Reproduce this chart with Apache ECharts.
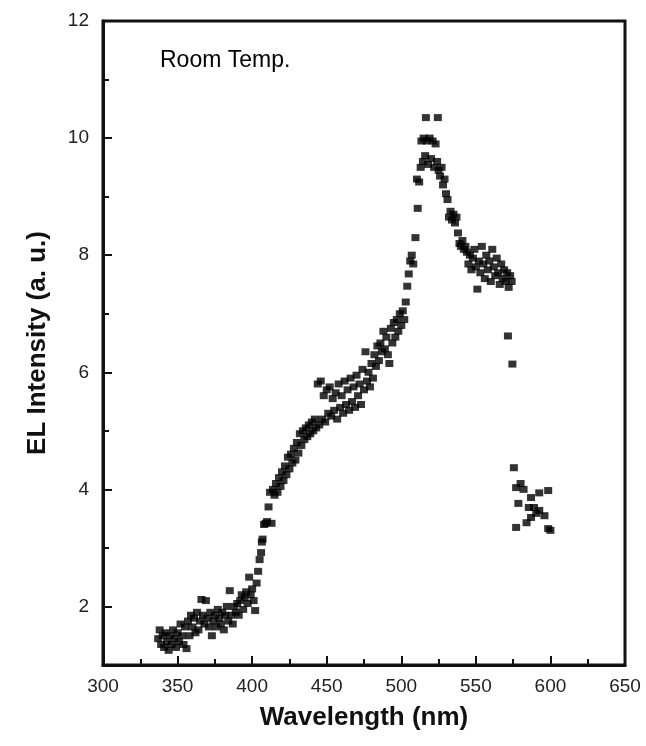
<!DOCTYPE html>
<html>
<head>
<meta charset="utf-8">
<script src="https://cdn.jsdelivr.net/npm/echarts@6/dist/echarts.min.js"></script>
<style>
  html, body { margin: 0; padding: 0; background: #fff; }
  #chart { width: 646px; height: 746px; }
</style>
</head>
<body>
<div id="chart"></div>
<script>
// wavelength (nm) of each measured point
const wavelength = [
  337, 338, 339, 340, 341, 342, 343, 344, 345, 346, 347, 348, 349, 350, 351, 352, 353, 354, 355, 356,
  357, 358, 359, 360, 361, 362, 363, 364, 365, 366, 367, 368, 369, 370, 371, 372, 373, 374, 375, 376,
  377, 378, 379, 380, 381, 382, 383, 384, 385, 386, 387, 388, 389, 390, 391, 392, 393, 394, 395, 396,
  397, 398, 399, 400, 401, 402, 403, 404, 405, 406,
  406.5, 407, 408, 409, 410, 411, 412, 413, 414, 415, 416, 417, 418, 419, 420, 421, 422, 423, 424, 425,
  426, 427, 428, 429, 430, 431, 432, 433, 434, 435, 436, 437, 438, 439, 440, 441, 442, 443, 444, 445,
  446, 447, 448, 449, 450,
  451, 452, 453, 454, 455, 456, 457, 458, 459, 460, 461, 462, 463, 464, 465, 466, 467, 468, 469, 470,
  471, 472, 473, 474, 475, 476, 477, 478, 479, 480, 481, 482, 483, 484, 485, 486, 487, 488, 489, 490,
  491, 492, 493, 494, 495, 496, 497, 498, 499, 500, 501, 502, 503,
  504, 505, 506, 507, 508, 509.5, 511, 510.5, 512, 513, 513.5, 514.5, 515, 516.5, 516, 517, 518, 519, 520, 521,
  522, 523, 524.5, 524, 525, 526, 527, 528, 529, 530, 531, 532, 533, 534, 535, 536, 537, 538, 539, 540,
  541, 542, 543,
  544, 545, 546, 547, 548, 549, 550, 551, 552, 553, 554, 555, 556, 557, 558, 559, 560, 561, 562, 563,
  564, 565, 566, 567, 568, 569, 570, 571, 572, 573, 574,
  571.5, 574.5, 575.5, 577, 580, 582, 598.5, 592.5, 578.5, 587, 589, 592.5, 596, 587, 584, 577, 598.5, 590.5, 585.5, 600
];

// EL intensity (a. u.) of each point
const intensity = [
  1.45, 1.6, 1.35, 1.5, 1.3, 1.55, 1.4, 1.25, 1.5, 1.35, 1.6, 1.45, 1.3, 1.55, 1.4, 1.7, 1.5, 1.35, 1.65, 1.28,
  1.75, 1.5, 1.85, 1.65, 1.8, 1.55, 1.9, 1.6, 1.75, 2.12, 1.85, 1.7, 2.1, 1.8, 1.65, 1.9, 1.5, 1.75, 1.85, 1.65,
  1.95, 1.8, 1.7, 1.9, 1.6, 1.85, 2.0, 1.75, 2.27, 1.85, 1.7, 2.0, 1.9, 2.05, 1.85, 2.1, 2.2, 1.95, 2.15, 2.25,
  2.05, 2.5, 2.2, 2.3, 2.1, 1.93, 2.4, 2.6, 2.8, 2.92,
  3.1, 3.15, 3.4, 3.42, 3.45, 3.7, 3.95, 3.42, 4.0, 3.9, 4.1, 3.95, 4.2, 4.05, 4.3, 4.15, 4.4, 4.25, 4.55, 4.35,
  4.6, 4.45, 4.7, 4.5, 4.8, 4.62, 4.95, 4.75, 5.0, 4.85, 5.05, 4.9, 5.1, 4.95, 5.15, 5.0, 5.2, 5.05, 5.8, 5.1,
  5.85, 5.2, 5.6, 5.15, 5.7,
  5.3, 5.75, 5.25, 5.55, 5.35, 5.65, 5.2, 5.8, 5.4, 5.6, 5.3, 5.85, 5.45, 5.7, 5.35, 5.9, 5.5, 5.75, 5.4, 5.95,
  5.6, 5.8, 5.45, 6.05, 5.7, 6.35, 5.85, 6.0, 5.75, 6.15, 5.9, 6.3, 6.1, 6.45, 6.2, 6.5, 6.35, 6.7, 6.4, 6.6,
  6.3, 6.15, 6.75, 6.5, 6.85, 6.6, 6.9, 6.7, 7.0, 6.8, 7.05, 6.9, 7.2,
  7.47, 7.68, 7.9, 8.0, 7.85, 8.3, 8.8, 9.3, 9.25, 9.5, 9.95, 9.6, 10.0, 10.35, 9.7, 9.95, 9.55, 10.0, 9.65, 9.95,
  9.5, 9.9, 10.35, 9.6, 9.45, 9.35, 9.5, 9.2, 9.3, 9.05, 8.95, 8.65, 8.75, 8.6, 8.7, 8.55, 8.65, 8.38, 8.2, 8.15,
  8.25, 8.1, 8.15,
  8.05, 7.85, 8.0, 7.75, 7.95, 8.1, 7.8, 7.42, 7.9, 7.7, 8.15, 7.85, 7.6, 8.0, 7.75, 7.9, 7.55, 8.1, 7.8, 7.65,
  7.95, 7.7, 7.5, 7.85, 7.6, 7.75, 7.55, 7.7, 7.45, 7.65, 7.55,
  6.62, 6.14, 4.37, 4.03, 4.1, 4.0, 3.98, 3.94, 3.76, 3.86, 3.69, 3.64, 3.55, 3.52, 3.43, 3.35, 3.33, 3.59, 3.69, 3.3
];

const xTicks = { min: 300, max: 650, step: 50 };
const yRange = { min: 1, max: 12 };

const points = wavelength.map((w, i) => [w, intensity[i]]);

const chart = echarts.init(document.getElementById('chart'), null, { renderer: 'canvas' });

const labelFont = 'Liberation Sans, Arial, sans-serif';

const option = {
  animation: false,
  backgroundColor: '#fff',
  title: {
    text: 'Room Temp.',
    left: 155,
    top: 44,
    textStyle: { fontFamily: labelFont, fontSize: 23, fontWeight: 'normal', color: '#000' }
  },
  grid: {
    left: 103, right: 21, top: 21, bottom: 81,
    show: true,
    borderColor: '#111',
    borderWidth: 3
  },
  xAxis: {
    type: 'value',
    min: xTicks.min,
    max: xTicks.max,
    interval: xTicks.step,
    name: 'Wavelength (nm)',
    nameLocation: 'middle',
    nameGap: 40,
    nameTextStyle: { fontFamily: labelFont, fontSize: 26, fontWeight: 'bold', color: '#111' },
    axisLine: { show: true, lineStyle: { color: '#111', width: 3 } },
    axisTick: { show: true, inside: true, length: 9, lineStyle: { color: '#111', width: 2 } },
    minorTick: { show: true, splitNumber: 2, length: 6, lineStyle: { color: '#111', width: 2 } },
    axisLabel: { fontFamily: labelFont, fontSize: 19, color: '#222', margin: 12 },
    splitLine: { show: false }
  },
  yAxis: [
    {
      type: 'value',
      position: 'left',
      min: yRange.min,
      max: yRange.max,
      splitNumber: 5,
      name: 'EL Intensity (a. u.)',
      nameLocation: 'middle',
      nameGap: 52,
      nameTextStyle: { fontFamily: labelFont, fontSize: 26, fontWeight: 'bold', color: '#111' },
      axisLine: { show: true, lineStyle: { color: '#111', width: 3 } },
      axisTick: { show: true, inside: true, length: 9, lineStyle: { color: '#111', width: 2 } },
      axisLabel: { fontFamily: labelFont, fontSize: 19, color: '#222', margin: 14, showMinLabel: false },
      splitLine: { show: false }
    },
    {
      // minor ticks on every whole unit
      type: 'value',
      position: 'left',
      min: yRange.min,
      max: yRange.max,
      interval: 1,
      axisLine: { show: false },
      axisTick: { show: true, inside: true, length: 6, lineStyle: { color: '#111', width: 2 } },
      axisLabel: { show: false },
      splitLine: { show: false }
    }
  ],
  series: [
    {
      type: 'scatter',
      yAxisIndex: 0,
      symbol: 'rect',
      symbolSize: [8, 7],
      itemStyle: { color: '#000' },
      data: points
    }
  ]
};

chart.setOption(option);
</script>
</body>
</html>
